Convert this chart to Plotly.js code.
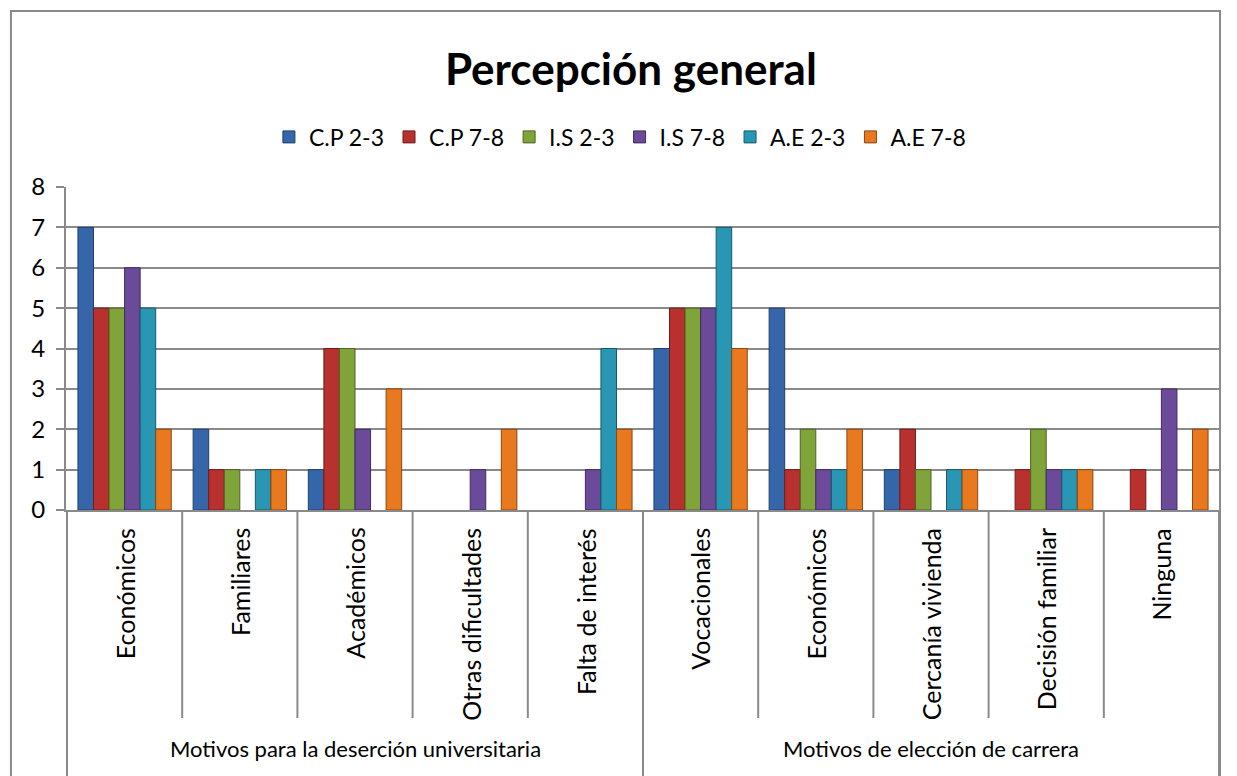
<!DOCTYPE html>
<html>
<head>
<meta charset="utf-8">
<script src="https://cdn.plot.ly/plotly-3.0.1.min.js"></script>
<style>html,body{margin:0;padding:0;background:#fff;}#chart{width:1237px;height:776px;}</style>
</head>
<body>
<div id="chart"></div>
<script>
// ---- data ----
const groups = ["Motivos para la deserción universitaria","Motivos para la deserción universitaria","Motivos para la deserción universitaria","Motivos para la deserción universitaria","Motivos para la deserción universitaria",
                "Motivos de elección de carrera","Motivos de elección de carrera","Motivos de elección de carrera","Motivos de elección de carrera","Motivos de elección de carrera"];
const categories = ["Económicos","Familiares","Académicos","Otras dificultades","Falta de interés",
                    "Vocacionales","Económicos","Cercanía vivienda","Decisión familiar","Ninguna"];
const seriesNames = ["C.P 2-3","C.P 7-8","I.S 2-3","I.S 7-8","A.E 2-3","A.E 7-8"];
const cp23 = [7,2,1,0,0,4,5,1,0,0];
const cp78 = [5,1,4,0,0,5,1,2,1,1];
const is23 = [5,1,4,0,0,5,2,1,2,0];
const is78 = [6,0,2,1,1,5,1,0,1,3];
const ae23 = [5,1,0,0,4,7,1,1,1,0];
const ae78 = [2,1,3,2,2,4,2,1,1,2];
const seriesValues = [cp23,cp78,is23,is78,ae23,ae78];
const yTicks = [0,1,2,3,4,5,6,7,8];

// ---- style ----
const colors = ["#3466A9","#B8312F","#80A43A","#6B4B99","#2996B3","#E8791E"];
const edges  = ["#1E3F6E","#6E1C1A","#4C6322","#3F2C5C","#17596B","#8C4610"];
const FONT = "Lato, 'Open Sans', sans-serif";
const GRID = "#8a8a8a";

// unique category keys (group + category) so both "Económicos" stay separate
const keys = categories.map((c, i) => groups[i] + " | " + c);

const traces = seriesValues.map((vals, i) => ({
  type: "bar",
  name: seriesNames[i],
  x: keys,
  y: vals.map(v => v === 0 ? null : v),
  marker: {color: colors[i], line: {color: edges[i], width: 1}},
  hoverinfo: "y+name"
}));

const shapes = [];
for (let i = 0; i <= categories.length; i++) {
  const isGroupEdge = (i === 0 || i === categories.length || groups[i] !== groups[i-1]);
  shapes.push({
    type: "line", xref: "x", yref: "paper",
    x0: i - 0.5, x1: i - 0.5,
    y0: 0, y1: isGroupEdge ? -0.83 : -0.644,
    line: {color: GRID, width: 2}
  });
}
shapes.push({
  type: "rect", xref: "paper", yref: "paper",
  x0: -0.0477, x1: 1.0, y0: -0.85, y1: 1.545,
  line: {color: GRID, width: 2}, fillcolor: "rgba(0,0,0,0)"
});

const annotations = [];
keys.forEach((k, i) => {
  annotations.push({
    xref: "x", yref: "paper", x: k, y: -0.05, yanchor: "top", xanchor: "center",
    text: categories[i], textangle: -90, showarrow: false,
    font: {family: FONT, size: 25, color: "#000"}
  });
});
const uniqueGroups = [...new Set(groups)];
uniqueGroups.forEach(g => {
  const idx = groups.map((gg, i) => gg === g ? i : -1).filter(i => i >= 0);
  const center = (idx[0] + idx[idx.length - 1]) / 2;
  annotations.push({
    xref: "x", yref: "paper", x: center, y: -0.737, yanchor: "middle", xanchor: "center",
    text: g, showarrow: false, font: {family: FONT, size: 22, color: "#000"}
  });
});

const layout = {
  width: 1237, height: 776,
  paper_bgcolor: "#fff", plot_bgcolor: "#fff",
  margin: {l: 66, r: 17, t: 187, b: 266},
  font: {family: FONT, color: "#000", size: 22},
  title: {text: "<b>Percepción general</b>", font: {family: FONT, size: 44, color: "#000"},
          x: 0.51, xanchor: "center", y: 0.91, yanchor: "middle"},
  barmode: "group", bargap: 0.19, bargroupgap: 0,
  showlegend: true,
  legend: {orientation: "h", x: 0.48, xanchor: "center", y: 1.155, yanchor: "middle",
           font: {family: FONT, size: 23}, traceorder: "normal", itemwidth: 30},
  xaxis: {
    type: "category", showticklabels: false, ticks: "",
    showline: true, linecolor: GRID, linewidth: 2, showgrid: false
  },
  yaxis: {
    range: [0, 8], tickvals: yTicks, ticktext: yTicks.map(String),
    showgrid: true, gridcolor: GRID, gridwidth: 2,
    showline: true, linecolor: GRID, linewidth: 2,
    ticks: "outside", ticklen: 8, tickcolor: GRID, tickwidth: 2,
    zeroline: false, ticklabelstandoff: 6,
    tickfont: {family: FONT, size: 24, color: "#000"}
  },
  annotations: annotations,
  shapes: shapes
};

Plotly.newPlot("chart", traces, layout, {displayModeBar: false, staticPlot: true});
</script>
</body>
</html>
